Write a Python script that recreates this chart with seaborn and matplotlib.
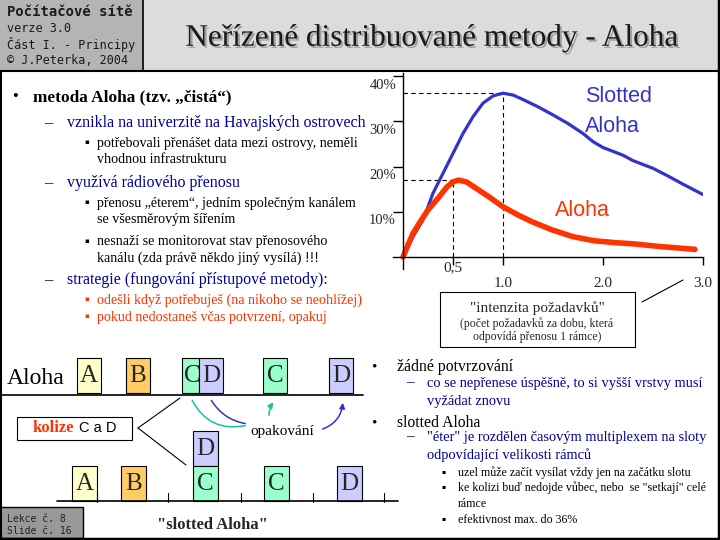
import matplotlib
matplotlib.use('Agg')
import matplotlib.pyplot as plt
import matplotlib.patheffects as pe
import seaborn as sns
import pandas as pd
import numpy as np
from matplotlib.patches import Rectangle, FancyArrowPatch

# throughput curves (G = offered load, S in %)
slotted_g = [0.0, 0.1, 0.2, 0.25, 0.3, 0.4, 0.5, 0.6, 0.7, 0.8, 0.9, 1.0, 1.1, 1.2,
             1.35, 1.5, 1.65, 1.8, 1.9, 2.0, 2.2, 2.3, 2.5, 2.65, 2.8, 3.0]
slotted_s = [0.0, 4.5, 8.2, 11.1, 14.1, 18.5, 22.9, 27.3, 31.0, 34.0, 35.6, 36.2, 35.8, 34.8,
             33.2, 31.4, 29.5, 27.3, 25.5, 24.2, 22.5, 21.3, 19.6, 17.9, 16.1, 13.8]
aloha_g = [0.0, 0.05, 0.1, 0.16, 0.25, 0.35, 0.44, 0.5, 0.555, 0.635, 0.73, 0.86, 1.0,
           1.15, 1.29, 1.49, 1.7, 1.91, 2.11, 2.31, 2.58, 2.92]
aloha_s = [0.0, 2.7, 5.2, 7.4, 10.4, 13.0, 15.5, 16.6, 17.0, 16.6, 15.2, 13.3, 11.1,
           9.3, 7.8, 6.0, 4.5, 3.6, 3.2, 2.9, 2.3, 1.7]

x_ticks = [0.5, 1.0, 2.0, 3.0]
x_tick_labels = ['0,5', '1.0', '2.0', '3.0']
y_ticks = [10, 20, 30, 40]
y_tick_labels = ['10%', '20%', '30%', '40%']

left_items = [
    (0, 97, ['metoda Aloha (tzv. „čistá“)']),
    (1, 123, ['vznikla na univerzitě na Havajských ostrovech']),
    (2, 143, ['potřebovali přenášet data mezi ostrovy, neměli', 'vhodnou infrastrukturu']),
    (1, 183, ['využívá rádiového přenosu']),
    (2, 203, ['přenosu „éterem“, jedním společným kanálem', 'se všesměrovým šířením']),
    (2, 242, ['nesnaží se monitorovat stav přenosového', 'kanálu (zda právě někdo jiný vysílá) !!!']),
    (1, 280, ['strategie (fungování přístupové metody):']),
    (3, 300, ['odešli když potřebuješ (na nikoho se neohlížej)']),
    (3, 317, ['pokud nedostaneš včas potvrzení, opakuj']),
]
right_items = [
    (0, 367, ['žádné potvrzování']),
    (1, 383, ['co se nepřenese úspěšně, to si vyšší vrstvy musí', 'vyžádat znovu']),
    (0, 423, ['slotted Aloha']),
    (1, 437, ['"éter" je rozdělen časovým multiplexem na sloty', 'odpovídající velikosti rámců']),
    (2, 473, ['uzel může začít vysílat vždy jen na začátku slotu']),
    (2, 488, ['ke kolizi buď nedojde vůbec, nebo  se "setkají" celé', 'rámce']),
    (2, 520, ['efektivnost max. do 36%']),
]

sns.set_theme(style='white')
plt.rcParams['font.family'] = ['Liberation Serif', 'DejaVu Serif']
plt.rcParams['axes.linewidth'] = 1.0

NAVY = '#000099'
RED = '#ff3300'
BLUE = '#3333cc'
TEAL = '#11c49a'
fills = {'A': '#ffffcc', 'B': '#ffcc66', 'C': '#99ffcc', 'D': '#ccccff'}

fig = plt.figure(figsize=(7.2, 5.4), dpi=100)
cv = fig.add_axes([0, 0, 1, 1])
cv.set_xlim(0, 720)
cv.set_ylim(540, 0)
cv.axis('off')


def txt(x, y, s, size, color='black', weight='normal', family=None, ha='left'):
    kw = {}
    if family is not None:
        kw['family'] = family
    cv.text(x, y, s, fontsize=size, color=color, weight=weight, ha=ha, va='center', **kw)


# header
cv.add_patch(Rectangle((0, 0), 143, 71, fc='#b4b4b4', ec='none'))
cv.add_patch(Rectangle((143, 0), 575, 71, fc='#dcdcdc', ec='none'))
cv.plot([0, 720], [71, 71], color='black', lw=1.5)
cv.plot([143, 143], [0, 71], color='black', lw=1.2)
mono = ['DejaVu Sans Mono']
txt(7, 12, 'Počítačové sítě', 10, color='#1a1a1a', weight='bold', family=mono)
txt(7, 29, 'verze 3.0', 8.5, color='#1a1a1a', family=mono)
txt(7, 45, 'Část I. - Principy', 8.5, color='#1a1a1a', family=mono)
txt(7, 61, '© J.Peterka, 2004', 8.5, color='#1a1a1a', family=mono)
cv.text(432, 38, 'Neřízené distribuované metody - Aloha', fontsize=22.5, color='#1a1a1a',
        ha='center', va='center',
        path_effects=[pe.withSimplePatchShadow(offset=(1.5, -1.5), shadow_rgbFace='#a0a0a0', alpha=1)])

# frame
cv.plot([718.5, 718.5], [0, 540], color='black', lw=2.5)
cv.plot([0, 720], [538.5, 538.5], color='black', lw=2.5)
cv.plot([1, 1], [71, 540], color='black', lw=1.5)
cv.add_patch(Rectangle((0, 507), 83, 31, fc='#999999', ec='black', lw=1))
txt(7, 519, 'Lekce č. 8', 7, color='#222222', family=mono)
txt(7, 531, 'Slide č. 16', 7, color='#222222', family=mono)

# left bullets
for lvl, y, lines in left_items:
    if lvl == 0:
        txt(12, y, '•', 12)
        txt(33, y, lines[0], 12.4, weight='bold')
        continue
    if lvl == 1:
        txt(44, y, '–', 12, color=NAVY)
        txt(67, y, lines[0], 11.5, color=NAVY)
        continue
    col = RED if lvl == 3 else 'black'
    txt(84, y - 1, '▪', 5, color=col, family=['DejaVu Sans'])
    for i, ln in enumerate(lines):
        txt(97, y + 16.5 * i, ln, 10.1, color=col)

# right bullets
for lvl, y, lines in right_items:
    if lvl == 0:
        txt(371, y, '•', 11)
        txt(397, y, lines[0], 11.3)
    elif lvl == 1:
        txt(406, y, '–', 11, color=NAVY)
        for i, ln in enumerate(lines):
            txt(427, y + 18 * i, ln, 10.4, color=NAVY)
    else:
        txt(441, y - 1, '▪', 4.5, family=['DejaVu Sans'])
        for i, ln in enumerate(lines):
            txt(458, y + 16 * i, ln, 8.6)

# Aloha diagram
txt(7, 378, 'Aloha', 17)
cv.plot([0, 363], [395, 395], color='black', lw=1.2)
top_boxes = [('A', 77), ('B', 126), ('C', 182), ('D', 199), ('C', 263), ('D', 329)]
for lab, x0 in top_boxes:
    w = 17 if (lab == 'C' and x0 == 182) else 24
    cv.add_patch(Rectangle((x0, 358), w, 35, fc=fills[lab], ec='black', lw=0.8))
    cx = x0 + 12 if w == 24 else x0 + 10
    cv.text(cx, 376, lab, fontsize=18, ha='center', va='center')

cv.add_patch(Rectangle((17, 417), 115, 23, fc='white', ec='black', lw=0.8))
txt(33, 428, 'kolize', 12, color=RED, weight='bold')
txt(79, 428, 'C a D', 10.5, family=['Liberation Sans'])
cv.plot([138, 180], [428, 398], color='black', lw=0.8)
cv.plot([138, 186], [428, 465], color='black', lw=0.8)
txt(250, 431, 'opakování', 11)

cv.add_patch(FancyArrowPatch((191, 398), (248, 425), connectionstyle='arc3,rad=0.4',
                             arrowstyle='-', color=TEAL, lw=1.1))
cv.add_patch(FancyArrowPatch((269, 418), (275, 400), connectionstyle='arc3,rad=-0.2',
                             arrowstyle='-|>', mutation_scale=8, color=TEAL, lw=1.1))
cv.add_patch(FancyArrowPatch((210, 398), (248, 424), connectionstyle='arc3,rad=0.25',
                             arrowstyle='-', color=BLUE, lw=1.1))
cv.add_patch(FancyArrowPatch((320, 430), (343, 400), connectionstyle='arc3,rad=0.35',
                             arrowstyle='-|>', mutation_scale=8, color=BLUE, lw=1.1))

# slotted diagram
cv.plot([57, 398], [501, 501], color='black', lw=1.2)
for tx in [97, 168, 241, 313, 384]:
    cv.plot([tx, tx], [493, 502], color='black', lw=0.8)
bottom_boxes = [('A', 72, 466), ('B', 121, 466), ('D', 193, 431), ('C', 193, 466),
                ('C', 264, 466), ('D', 337, 466)]
for lab, x0, y0 in bottom_boxes:
    cv.add_patch(Rectangle((x0, y0), 25, 35, fc=fills[lab], ec='black', lw=0.8))
    cv.text(x0 + 12.5, y0 + 18, lab, fontsize=18, ha='center', va='center')
cv.text(212, 525, '"slotted Aloha"', fontsize=12, weight='bold', ha='center', va='center')

# intensity box
cv.add_patch(Rectangle((440, 292), 195, 55, fc='white', ec='black', lw=0.8))
cv.text(537, 308, '"intenzita požadavků"', fontsize=11, ha='center', va='center')
cv.text(537, 324, '(počet požadavků za dobu, která', fontsize=8.5, ha='center', va='center')
cv.text(537, 337, 'odpovídá přenosu 1 rámce)', fontsize=8.5, ha='center', va='center')
cv.plot([642, 683], [302, 280], color='black', lw=0.8)

# throughput chart
ax = fig.add_axes([393 / 720, 1 - 268.8 / 540, 310 / 720, 195.5 / 540])
ax.set_facecolor('none')
ax.set_xlim(-0.1, 3.0)
ax.set_ylim(-2.6, 40.6)
for side in ['top', 'right']:
    ax.spines[side].set_visible(False)
ax.spines['left'].set_position(('data', 0))
ax.spines['bottom'].set_position(('data', 0))
ax.spines['left'].set_color('black')
ax.spines['bottom'].set_color('black')

df_slot = pd.DataFrame({'G': slotted_g, 'S': slotted_s})
df_aloha = pd.DataFrame({'G': aloha_g, 'S': aloha_s})

peak_s = df_slot.loc[df_slot['S'].idxmax()]
peak_a = df_aloha.loc[df_aloha['S'].idxmax()]
dash = dict(color='black', lw=0.8, ls=(0, (4, 3)))
ax.plot([0, peak_s['G']], [peak_s['S'], peak_s['S']], **dash)
ax.plot([peak_s['G'], peak_s['G']], [0, peak_s['S']], **dash)
ax.plot([0, 0.5], [peak_a['S'], peak_a['S']], **dash)
ax.plot([0.5, 0.5], [0, peak_a['S']], **dash)

sns.lineplot(data=df_slot, x='G', y='S', ax=ax, color=BLUE, lw=2.3, sort=False)
sns.lineplot(data=df_aloha, x='G', y='S', ax=ax, color=RED, lw=4.0, sort=False,
             solid_capstyle='round')

ax.set_xticks(x_ticks)
ax.set_yticks(y_ticks)
ax.set_xticklabels([])
ax.set_yticklabels([])
ax.tick_params(axis='x', direction='out', length=6, width=1, color='black', bottom=True)
ax.tick_params(axis='y', direction='out', length=7, width=1, color='black', left=True)
ax.set_xlabel('')
ax.set_ylabel('')
for t, lab in zip(x_ticks, x_tick_labels):
    off = -8 if t == 0.5 else -19
    ax.annotate(lab, xy=(t, 0), xytext=(0, off), textcoords='offset points',
                ha='center', va='center', fontsize=11, annotation_clip=False)
for t, lab in zip(y_ticks, y_tick_labels):
    ax.annotate(lab, xy=(0, t), xytext=(-5, -6.5), textcoords='offset points',
                ha='right', va='center', fontsize=10.5, annotation_clip=False)

ax.text(1.82, 35.5, 'Slotted', fontsize=15.5, color=BLUE, family=['Liberation Sans'], va='center')
ax.text(1.82, 28.8, 'Aloha', fontsize=15.5, color=BLUE, family=['Liberation Sans'], va='center')
ax.text(1.52, 10.2, 'Aloha', fontsize=15.5, color=RED, family=['Liberation Sans'], va='center')

fig.savefig('out.png', dpi=100)
